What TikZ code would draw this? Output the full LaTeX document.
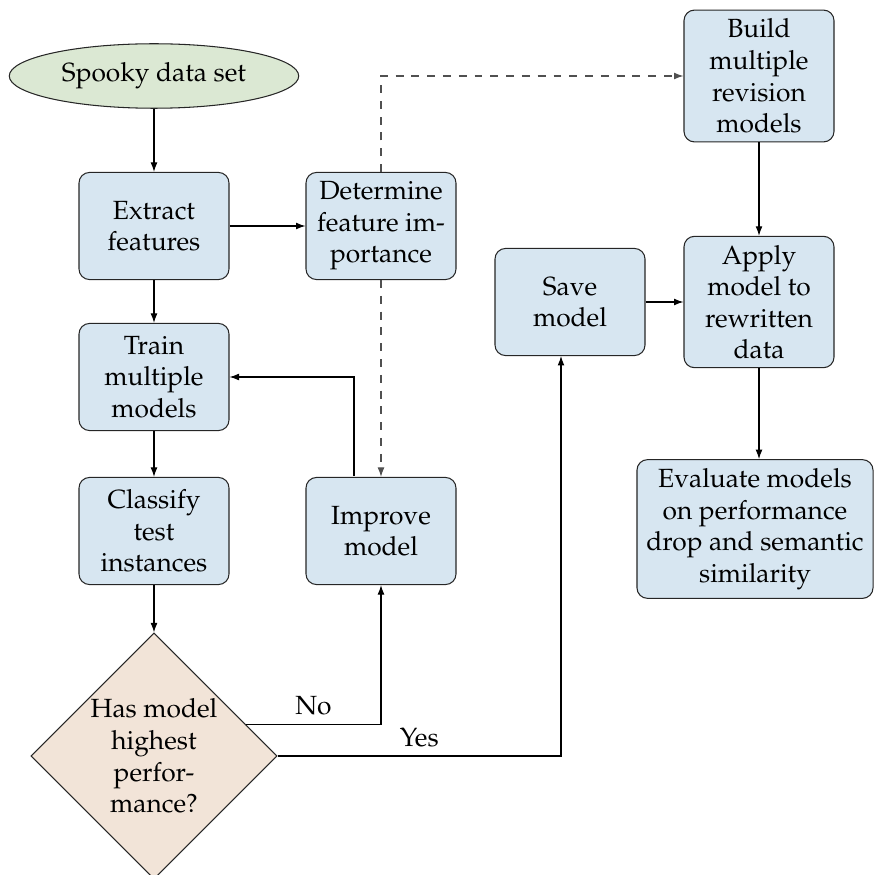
\documentclass[tikz,border=0pt]{standalone}
\usepackage[T1]{fontenc}
\usepackage{mathpazo}
\usetikzlibrary{shapes.geometric,arrows.meta}
\definecolor{boxblue}{RGB}{215,230,241}
\definecolor{ellgreen}{RGB}{219,232,211}
\definecolor{diabeige}{RGB}{242,228,216}
\definecolor{dashgray}{RGB}{80,80,80}
\tikzset{
  block/.style={rectangle, draw=black!85, fill=boxblue, rounded corners=4pt, align=center,
    minimum width=57pt, minimum height=40.7pt, inner sep=3.33pt},
  startnode/.style={ellipse, draw=black!85, fill=ellgreen, inner sep=3.33pt, minimum width=110pt, minimum height=24.5pt},
  decision/.style={diamond, draw=black!85, fill=diabeige, aspect=1, inner sep=0pt, align=center,
    minimum width=93.5pt, minimum height=93.5pt},
  conn/.style={draw=black, -{Latex[length=3.6pt,width=2.6pt]}},
  dconn/.style={draw=dashgray, dashed, -{Latex[length=3.6pt,width=2.6pt]}}
}
\begin{document}
\begin{tikzpicture}[x=0.38pt,y=-0.38pt]
\useasboundingbox (0,0) rectangle (874,875);
\node[startnode] (spooky) at (154,76) {Spooky data set};
\node[block] (extract) at (154,226) {Extract\\features};
\node[block] (determine) at (381,226) {Determine\\feature im-\\portance};
\node[block] (train) at (154,377) {Train\\multiple\\models};
\node[block] (classify) at (154,531) {Classify\\test\\instances};
\node[block] (improve) at (381,531) {Improve\\model};
\node[decision] (dec) at (154,756) {Has model\\highest\\perfor-\\mance?};
\node[block] (build) at (759,76) {Build\\multiple\\revision\\models};
\node[block] (save) at (570,302) {Save\\model};
\node[block] (apply) at (759,302) {Apply\\model to\\rewritten\\data};
\node[block, minimum width=89.7pt] (eval) at (755,529) {Evaluate models\\on performance\\drop and semantic\\similarity};

\draw[conn] (spooky) -- (extract);
\draw[conn] (extract) -- (determine);
\draw[conn] (extract) -- (train);
\draw[conn] (train) -- (classify);
\draw[conn] (classify) -- (dec);
\draw[dconn] (determine) -- (improve);
\draw[dconn] (determine.north) |- (build.west);
\coordinate (impout) at (354,476);
\draw[conn] (impout) |- (train.east);
\draw[conn] (dec.19) -| (improve.south) node[pos=0.25, above] {No};
\coordinate (savein) at (561,356);
\draw[conn] (dec.east) -| (savein) node[pos=0.25, above] {Yes};
\draw[conn] (save) -- (apply);
\draw[conn] (build) -- (apply);
\draw[conn] (apply.south) -- (apply.south |- eval.north);
\end{tikzpicture}
\end{document}
